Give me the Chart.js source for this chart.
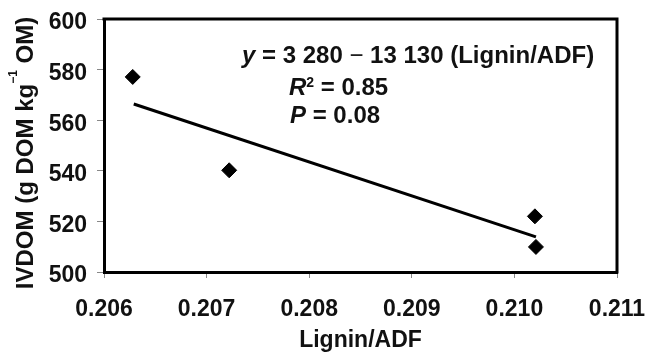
<!DOCTYPE html>
<html>
<head>
<meta charset="utf-8">
<script src="https://cdn.jsdelivr.net/npm/chart.js@4/dist/chart.umd.min.js"></script>
<style>
html,body{margin:0;padding:0;background:#fff;}
#wrap{width:645px;height:354px;position:relative;}
</style>
</head>
<body>
<div id="wrap"><canvas id="c" width="645" height="354"></canvas></div>
<script>
// ---- data ----
const ligninAdf = [0.20628, 0.20722, 0.21020, 0.21021];
const ivdom = [577.1, 540.2, 522.0, 509.9];
const trendX = [0.20629, 0.21021];
const trendY = [566.4, 513.9];
const xTicks = [0.206, 0.207, 0.208, 0.209, 0.210, 0.211];
const yTicks = [500, 520, 540, 560, 580, 600];
const xTitle = 'Lignin/ADF';
const yTitleMain = 'IVDOM (g DOM kg';
const yTitleSup = '\u22121';
const yTitleEnd = ' OM)';
const eqText = ['y', ' = 3 280 ', '\u2212', ' 13 130 (Lignin/ADF)'];
const r2Text = ['R', '2', ' = 0.85'];
const pText = ['P', ' = 0.08'];

const FAM = '"Liberation Sans", Arial, Helvetica, sans-serif';

function drawSegs(ctx, x, y, segs) {
  let cx = x;
  for (const s of segs) {
    ctx.font = s.font;
    ctx.fillText(s.t, cx, y + (s.dy || 0));
    cx += ctx.measureText(s.t).width;
  }
  return cx - x;
}
function segsWidth(ctx, segs) {
  let w = 0;
  for (const s of segs) { ctx.font = s.font; w += ctx.measureText(s.t).width; }
  return w;
}

const framePlugin = {
  id: 'frame',
  afterDraw(chart) {
    const {ctx, chartArea: a} = chart;
    ctx.save();
    ctx.strokeStyle = '#000';
    ctx.lineWidth = 3;
    ctx.lineCap = 'square';
    ctx.beginPath();
    ctx.moveTo(a.left, a.top);
    ctx.lineTo(a.right, a.top);
    ctx.lineTo(a.right, a.bottom);
    ctx.stroke();
    ctx.restore();
  }
};

const textPlugin = {
  id: 'texts',
  afterDraw(chart) {
    const {ctx, chartArea: a} = chart;
    ctx.save();
    ctx.fillStyle = '#111';
    ctx.textBaseline = 'alphabetic';
    ctx.textAlign = 'left';
    const B = 'bold 24px ' + FAM;
    const BI = 'italic bold 24px ' + FAM;
    drawSegs(ctx, a.left + 138, a.top + 44, [
      {t: eqText[0], font: BI}, {t: eqText[1], font: B},
      {t: eqText[2], font: '24px ' + FAM}, {t: eqText[3], font: B}
    ]);
    drawSegs(ctx, a.left + 185, a.top + 76, [
      {t: r2Text[0], font: BI}, {t: r2Text[1], font: 'bold 14px ' + FAM, dy: -8},
      {t: r2Text[2], font: B}
    ]);
    drawSegs(ctx, a.left + 186, a.top + 104, [
      {t: pText[0], font: BI}, {t: pText[1], font: B}
    ]);
    // y-axis title (rotated)
    const ysegs = [
      {t: yTitleMain, font: B},
      {t: yTitleSup, font: 'bold 12px ' + FAM, dy: -16},
      {t: yTitleEnd, font: B}
    ];
    const w = segsWidth(ctx, ysegs);
    const cy = 153;
    ctx.translate(33, cy + w / 2);
    ctx.rotate(-Math.PI / 2);
    drawSegs(ctx, 0, 0, ysegs);
    ctx.restore();
  }
};

const tickFont = {family: FAM, size: 23, weight: 'bold'};

new Chart(document.getElementById('c'), {
  type: 'scatter',
  data: {
    datasets: [
      {
        label: 'IVDOM',
        data: ligninAdf.map((x, i) => ({x: x, y: ivdom[i]})),
        pointStyle: 'rectRot',
        pointRadius: 7.5,
        pointHoverRadius: 7.5,
        backgroundColor: '#000',
        borderColor: '#000',
        borderWidth: 1,
        clip: false
      },
      {
        label: 'Trend',
        data: trendX.map((x, i) => ({x: x, y: trendY[i]})),
        showLine: true,
        borderColor: '#000',
        borderWidth: 3,
        pointRadius: 0,
        pointHoverRadius: 0,
        fill: false
      }
    ]
  },
  options: {
    responsive: false,
    animation: false,
    devicePixelRatio: 1,
    events: [],
    layout: {padding: {top: 19, right: 28, left: 0, bottom: 0}},
    plugins: {legend: {display: false}, tooltip: {enabled: false}},
    scales: {
      x: {
        type: 'linear',
        min: 0.206, max: 0.211,
        afterBuildTicks(scale) { scale.ticks = xTicks.map(v => ({value: v})); },
        afterFit(scale) {
          scale.height = 82;
          scale.paddingLeft = 0; scale.paddingRight = 0;
        },
        ticks: {
          font: tickFont, color: '#111', padding: 18, maxRotation: 0, autoSkip: false,
          callback: v => Number(v).toFixed(3)
        },
        grid: {display: true, drawOnChartArea: false, drawTicks: true, tickLength: 6, color: '#888', lineWidth: 1},
        border: {display: true, color: '#000', width: 3},
        title: {display: true, text: xTitle, font: {family: FAM, size: 23, weight: 'bold', lineHeight: 1}, color: '#111', padding: {top: 0, bottom: 2}}
      },
      y: {
        type: 'linear',
        min: 500, max: 600,
        afterBuildTicks(scale) { scale.ticks = yTicks.map(v => ({value: v})); },
        afterFit(scale) {
          scale.width = 104;
          scale.paddingTop = 0; scale.paddingBottom = 0;
        },
        ticks: {font: tickFont, color: '#111', padding: 10, labelOffset: 4, autoSkip: false},
        grid: {display: true, drawOnChartArea: false, drawTicks: true, tickLength: 7, color: '#888', lineWidth: 1},
        border: {display: true, color: '#000', width: 3},
        title: {display: false}
      }
    }
  },
  plugins: [framePlugin, textPlugin]
});
</script>
</body>
</html>
